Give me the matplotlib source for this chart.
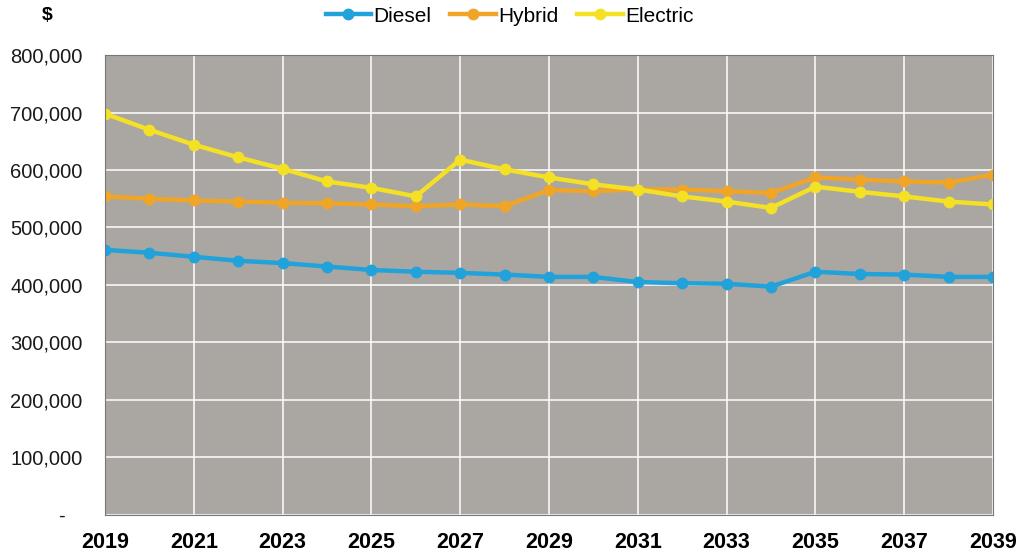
import matplotlib.pyplot as plt
from matplotlib.ticker import FuncFormatter

plt.rcParams['font.family'] = ['Liberation Sans', 'DejaVu Sans']

years = list(range(2019, 2040))
diesel = [461000, 456000, 449000, 442000, 438000, 432000, 426000, 423000, 421000, 418000, 414000,
          414000, 405000, 403000, 402000, 397000, 423000, 419000, 418000, 414000, 414000]
hybrid = [554000, 550000, 547000, 545000, 543000, 542000, 540000, 537000, 540000, 537000, 565000,
          563000, 566000, 566000, 563000, 560000, 587000, 583000, 580000, 578000, 592000]
electric = [698000, 670000, 644000, 622000, 602000, 580000, 569000, 554000, 618000, 601000, 587000,
            575000, 566000, 554000, 545000, 534000, 571000, 562000, 554000, 545000, 540000]

series = [('Diesel', diesel, '#22a2da'),
          ('Hybrid', hybrid, '#f0a526'),
          ('Electric', electric, '#f4e025')]

fig = plt.figure(figsize=(10.19, 5.53), dpi=100)
ax = fig.add_axes([0.103, 0.069, 0.8715, 0.8315])
ax.set_facecolor('#aaa7a2')

for name, vals, col in series:
    ax.plot(years, vals, color=col, lw=3.2, marker='o', ms=7.5, label=name)

ax.set_xlim(2019, 2039)
ax.set_ylim(0, 800000)
ax.set_xticks(range(2019, 2040, 2))
ax.set_yticks(range(0, 800001, 100000))
ax.yaxis.set_major_formatter(FuncFormatter(lambda v, p: '-   ' if v == 0 else f'{v:,.0f}'))
ax.grid(True, color='white', lw=1.1)
ax.set_axisbelow(True)
ax.tick_params(length=0)
ax.tick_params(axis='y', labelsize=14.5, pad=16, labelcolor='#1a1a1a')
ax.tick_params(axis='x', labelsize=15.5, pad=12)
for lab in ax.get_xticklabels():
    lab.set_fontweight('bold')
for s in ax.spines.values():
    s.set_color('#77767a')
    s.set_linewidth(0.8)

fig.text(0.046, 0.972, '$', fontsize=14, fontweight='bold', ha='center', va='center')
fig.legend(loc='center', bbox_to_anchor=(0.5, 0.971), ncol=3, frameon=False,
           fontsize=15, handlelength=2.2, handletextpad=0.1, columnspacing=0.9)

fig.savefig('out.png', dpi=100)
